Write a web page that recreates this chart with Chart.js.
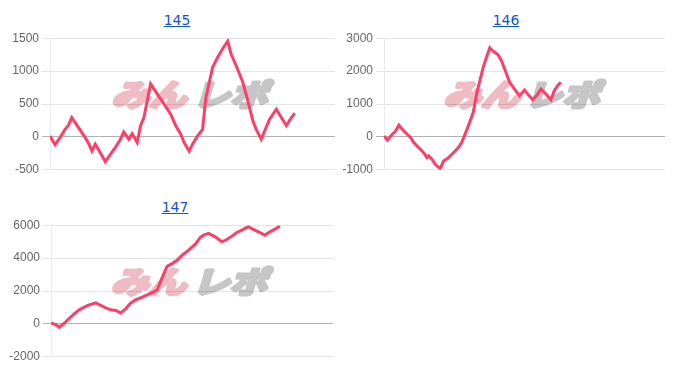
<!DOCTYPE html>
<html>
<head>
<meta charset="utf-8">
<script src="https://cdn.jsdelivr.net/npm/chart.js@4.4.1/dist/chart.umd.min.js"></script>
<style>
  body { margin: 0; background: #fff; font-family: "Liberation Sans", Arial, sans-serif; }
  .box { position: absolute; }
  .ttl { position: absolute; width: 100px; text-align: center; font-family: "DejaVu Sans", Verdana, sans-serif; font-size: 14px; line-height: 16px; }
  .ttl a { color: #1155cc; text-decoration: underline; }
  canvas { position: absolute; }
</style>
</head>
<body>
<div class="ttl" style="left:127px; top:12px;"><a href="#">145</a></div>
<div class="ttl" style="left:456px; top:12px;"><a href="#">146</a></div>
<div class="ttl" style="left:125px; top:199px;"><a href="#">147</a></div>

<div class="box" style="left:0; top:28px; width:335px; height:152px;"><canvas id="c145"></canvas></div>
<div class="box" style="left:338px; top:28px; width:327px; height:152px;"><canvas id="c146"></canvas></div>
<div class="box" style="left:0; top:215px; width:333px; height:152px;"><canvas id="c147"></canvas></div>

<script>
// 145
let games145 = [0,3,6,9,11,13,16,19,21,23,25,27,30,33,36,39,42,44,47,49,52,54,56,60,64,68,72,75,78,80,83,85,88,91,93,97,100,103,106,108,111,115,118,121,123,126,128,131,135,138,141,144,146];
let diff145  = [15,-120,-10,115,180,295,180,65,-10,-100,-215,-110,-240,-375,-265,-160,-35,75,-35,50,-85,170,295,805,650,500,345,170,40,-85,-215,-110,15,115,600,1060,1210,1340,1455,1260,1085,830,550,245,115,-35,90,270,420,295,170,295,360];

// 146
let games146 = [0,2,5,7,9,11,14,16,18,21,24,26,27,29,31,34,36,39,42,45,47,49,51,54,56,58,60,62,64,66,69,71,73,76,79,82,85,87,90,93,95,98,101,103,105,107];
let diff146  = [30,-100,80,180,355,235,80,-20,-175,-325,-480,-630,-580,-680,-835,-965,-735,-630,-480,-325,-175,80,335,745,1300,1710,2115,2420,2710,2605,2495,2320,2065,1660,1455,1250,1425,1300,1130,1300,1455,1300,1130,1405,1555,1660];

// 147
let games147 = [0,3,5,8,11,14,17,20,23,27,30,33,36,39,42,45,48,51,55,58,61,64,67,70,73,76,79,83,87,90,92,95,99,103,106,109,112,115,119,122,125,129,131,135,138];
let diff147  = [60,-60,-205,40,345,610,855,1020,1160,1285,1120,975,855,815,670,915,1260,1465,1630,1770,1895,2075,2810,3500,3665,3870,4175,4480,4845,5255,5395,5500,5295,4990,5130,5335,5560,5700,5905,5740,5600,5395,5540,5760,5945];

let maxGames = 170;

// watermark "みんレポ" (drawn under the grid)
const watermark = {
    id: 'watermark',
    beforeDraw(chart){
        const ctx = chart.ctx;
        const a = chart.chartArea;
        const cx = (a.left + a.right) / 2;
        const cy = (a.top + a.bottom) / 2 - 9;
        ctx.save();
        ctx.translate(cx, cy);
        ctx.transform(1.25, 0, -0.3, 1, 0, 0);
        ctx.font = 'bold 30px "Noto Sans CJK JP"';
        ctx.textBaseline = 'middle';
        ctx.lineWidth = 3.5;
        ctx.lineJoin = 'round';
        ctx.textAlign = 'right';
        ctx.fillStyle = ctx.strokeStyle = '#eebcc2';
        ctx.strokeText('みん', -2, 0);
        ctx.fillText('みん', -2, 0);
        ctx.textAlign = 'left';
        ctx.fillStyle = ctx.strokeStyle = '#c6c6c6';
        ctx.strokeText('レポ', 3, 0);
        ctx.fillText('レポ', 3, 0);
        ctx.restore();
    }
};

function LineGraph(dst, games, diff, min, max, step, axisWidth){
    const ctx = document.getElementById(dst).getContext('2d');
    const points = games.map((g, i) => ({x: g, y: diff[i]}));

    new Chart(ctx, {
        type: 'line',
        data: {
            datasets: [{
                data: points,
                borderColor: '#ff3d67',
                borderWidth: 3,
                pointRadius: 0,
                tension: 0,
                fill: false
            }]
        },
        options: {
            responsive: true,
            maintainAspectRatio: false,
            animation: false,
            layout: { padding: { top: 8, bottom: 8, left: 0, right: 0 } },
            plugins: { legend: { display: false }, tooltip: { enabled: false } },
            scales: {
                x: { type: 'linear', min: 0, max: maxGames, display: false },
                y: {
                    min: min, max: max,
                    afterFit(scale){ scale.width = axisWidth; },
                    ticks: {
                        stepSize: step, color: '#666',
                        font: { size: 12, family: '"Liberation Sans", Arial, sans-serif' },
                        callback: v => String(v)
                    },
                    border: { color: 'rgba(0,0,0,0.08)' },
                    grid: {
                        color: c => c.tick && c.tick.value === 0 ? 'rgba(0,0,0,0.3)' : 'rgba(0,0,0,0.1)'
                    }
                }
            }
        },
        plugins: [watermark]
    });
}

LineGraph('c145', games145, diff145, -500, 1500, 500, 50);
LineGraph('c146', games146, diff146, -1000, 3000, 1000, 46);
LineGraph('c147', games147, diff147, -2000, 6000, 2000, 51);
</script>
</body>
</html>
